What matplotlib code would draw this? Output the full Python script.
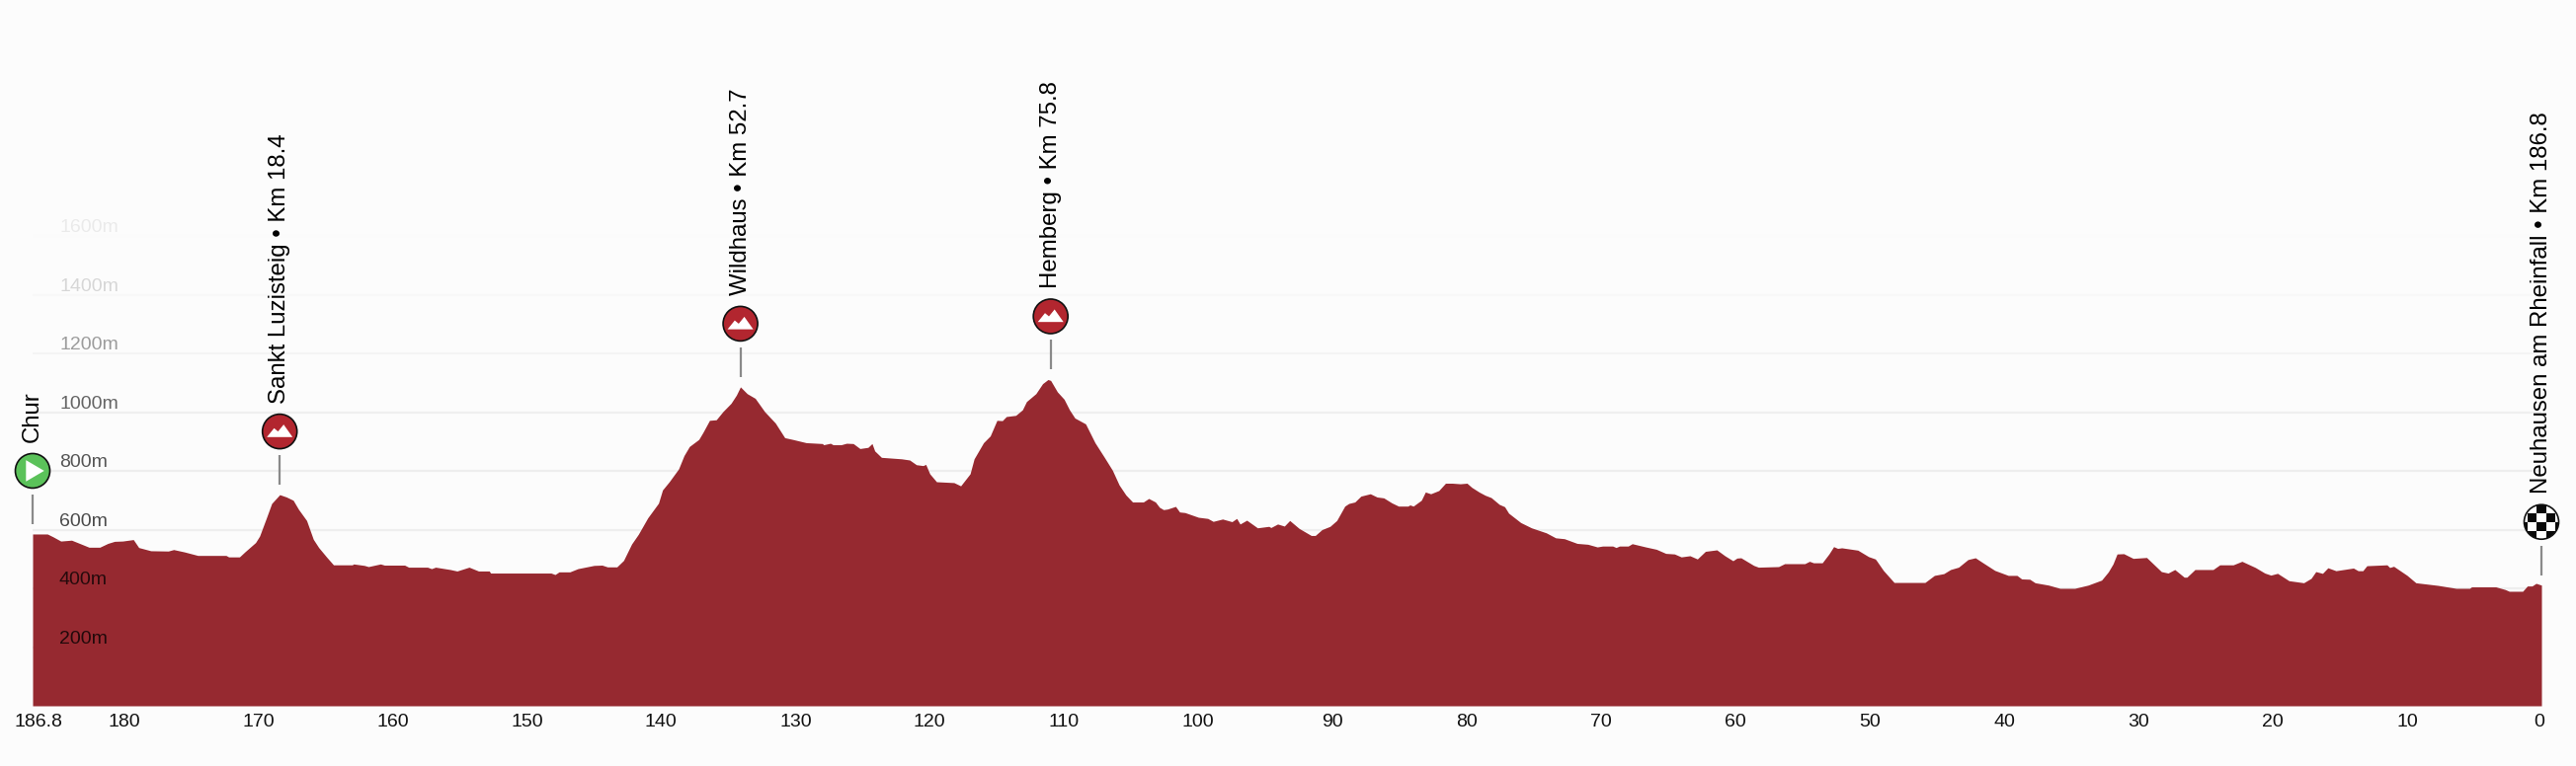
import numpy as np
from matplotlib import pyplot as plt
from matplotlib.patches import Circle, Polygon, Rectangle
from matplotlib.transforms import IdentityTransform, ScaledTranslation

# --- profile: km to the finish, altitude in m ---
km_start = [186.8, 185.7, 185.3, 184.7, 183.9, 183.3, 182.6, 181.8, 181.2, 180.7, 180.1, 179.3, 178.9, 178.0,
            176.7, 176.3, 175.5, 174.5, 172.4, 172.2, 171.4, 171.0, 170.2, 169.9, 169.4, 169.0, 168.4, 167.9,
            167.4, 167.0, 166.4, 165.9, 165.5, 164.9, 164.4, 163.0, 162.9, 162.1, 161.8, 160.9, 160.6, 159.1,
            158.8, 157.4, 157.1, 156.8, 155.7, 155.2, 154.3, 153.6, 152.8, 152.7, 148.2, 147.9, 147.6, 146.8,
            146.2, 145.0]
alt_start = [585, 585, 576, 561, 564, 553, 540, 540, 553, 560, 561, 566, 539, 528,
             527, 532, 524, 512, 512, 507, 507, 524, 556, 578, 639, 689, 719, 711,
             700, 669, 631, 567, 539, 506, 480, 480, 483, 478, 474, 483, 479, 479,
             472, 472, 467, 472, 464, 459, 472, 459, 459, 452, 452, 447, 456, 456,
             467, 478]

km_climbs = [144.4, 144.0, 143.3, 142.8, 142.2, 141.7, 141.0, 140.2, 139.9, 139.4, 138.7, 138.3, 137.9, 137.2,
             136.9, 136.4, 135.9, 135.4, 134.8, 134.4, 134.1, 133.6, 133.0, 132.3, 131.5, 130.8, 130.2, 129.2,
             128.0, 127.9, 127.4, 127.2, 126.6, 126.2, 125.7, 125.2, 124.6, 124.3, 124.1, 123.6, 122.1, 121.5,
             121.0, 120.5, 120.3, 120.0, 119.5, 118.2, 117.7, 117.0, 116.7, 116.0, 115.5, 115.0, 114.6, 114.3,
             113.6, 113.1, 112.8, 112.1, 111.6, 111.2, 111.0, 110.5, 110.0, 109.6, 109.2, 108.4, 107.7, 107.0,
             106.4, 105.9, 105.4, 104.9, 104.1, 103.7, 103.2, 102.9, 102.6, 102.3, 101.7, 101.4]
alt_climbs = [479, 473, 473, 495, 551, 584, 640, 690, 735, 763, 807, 852, 883, 907,
              930, 972, 974, 1002, 1030, 1058, 1086, 1063, 1047, 1002, 963, 913, 907, 896,
              893, 889, 894, 889, 889, 894, 893, 876, 880, 893, 868, 846, 841, 837,
              821, 818, 822, 790, 763, 760, 749, 790, 841, 896, 919, 972, 971, 985,
              989, 1008, 1036, 1063, 1097, 1111, 1108, 1069, 1044, 1008, 980, 960, 896, 846,
              802, 752, 718, 694, 694, 706, 694, 676, 668, 670, 679, 660]

km_middle = [101.0, 100.0, 99.3, 98.9, 98.2, 97.5, 97.15, 96.9, 96.4, 95.6, 94.75, 94.6, 94.1, 93.6, 93.2, 92.5,
             91.6, 91.3, 90.8, 90.2, 89.7, 89.1, 88.8, 88.35, 87.9, 87.2, 86.7, 86.2, 85.6, 85.1, 84.4, 84.25,
             84.0, 83.4, 83.1, 82.7, 82.1, 81.6, 81.1, 80.5, 80.0, 79.65, 79.1, 78.65, 78.2, 77.6, 77.2, 76.9,
             76.0, 75.2, 74.1, 73.4, 72.75, 71.8, 71.0, 70.3, 69.9, 69.15, 68.9, 68.65, 68.0, 67.7, 66.7, 65.9,
             65.2, 64.55, 64.05, 63.4, 62.85, 62.25, 61.4, 60.8, 60.2, 59.9, 59.6, 58.65, 58.3, 56.8, 56.35,
             54.85, 54.5, 54.2, 53.55, 53.05, 52.7, 52.4, 52.1, 50.9, 50.1, 49.6]
alt_middle = [658, 642, 638, 628, 636, 627, 638, 619, 632, 606, 611, 607, 619, 612, 631, 604,
              580, 580, 600, 611, 631, 680, 689, 694, 714, 722, 711, 708, 691, 680, 680, 684,
              680, 700, 728, 722, 733, 758, 758, 756, 758, 744, 728, 717, 709, 686, 678, 656,
              624, 606, 589, 572, 569, 553, 550, 541, 544, 544, 539, 544, 544, 552, 541, 533,
              519, 517, 507, 511, 500, 526, 531, 511, 494, 503, 504, 478, 472, 474, 484,
              484, 492, 487, 487, 517, 542, 536, 538, 530, 508, 500]

km_finish = [49.5, 49.0, 48.2, 47.2, 45.9, 45.2, 44.5, 44.0, 43.4, 42.7, 42.15, 41.55, 40.7, 39.7, 39.05, 38.7,
             38.1, 37.7, 36.7, 35.85, 34.75, 33.75, 32.75, 32.25, 31.9, 31.6, 31.1, 30.4, 29.4, 28.3, 27.8, 27.3,
             26.6, 26.4, 25.8, 24.45, 23.95, 22.95, 22.3, 21.3, 20.6, 20.15, 19.65, 18.8, 17.7, 17.15, 16.8, 16.3,
             15.9, 15.3, 14.0, 13.65, 13.3, 13.0, 11.5, 11.3, 11.0, 10.0, 9.35, 7.7, 6.35, 5.35, 5.2, 3.4,
             2.7, 2.4, 1.4, 1.05, 0.7, 0.4, 0.0]
alt_finish = [494, 461, 420, 420, 420, 444, 450, 464, 472, 498, 504, 486, 461, 444, 444, 432,
              431, 419, 411, 400, 400, 411, 428, 456, 483, 517, 518, 502, 505, 457, 452, 464,
              438, 438, 464, 464, 480, 480, 492, 471, 452, 445, 451, 426, 419, 434, 457, 451,
              470, 460, 469, 460, 460, 477, 480, 471, 475, 444, 419, 410, 400, 400, 405, 405,
              396, 390, 390, 408, 408, 417, 411]

x_ticks = [186.8, 180, 170, 160, 150, 140, 130, 120, 110, 100, 90, 80, 70, 60, 50, 40, 30, 20, 10, 0]
y_ticks = [200, 400, 600, 800, 1000, 1200, 1400, 1600]
y_alpha = [0.78, 0.75, 0.7, 0.66, 0.6, 0.38, 0.15, 0.07]
grid_colors = ['#eeeeee', '#eeeeee', '#eeeeee', '#eeeeee', '#efefef', '#f4f4f4', '#f8f8f8', '#fbfbfb']

# traguardi: nome, km al traguardo, quota, tipo
stop_names = ['Chur', 'Sankt Luzisteig • Km 18.4', 'Wildhaus • Km 52.7', 'Hemberg • Km 75.8',
              'Neuhausen am Rheinfall • Km 186.8']
stop_km = [186.8, 168.4, 134.1, 111.0, 0]
stop_alt = [585, 719, 1086, 1111, 411]
stop_kind = ['start', 'climb', 'climb', 'climb', 'finish']

km = np.array(km_start + km_climbs + km_middle + km_finish)
alt = np.array(alt_start + alt_climbs + alt_middle + alt_finish)

plt.rcParams['font.family'] = 'Liberation Sans'
BG = '#fcfcfc'
W, H = 2608, 776

fig = plt.figure(figsize=(W / 100, H / 100), dpi=100, facecolor=BG)
ax = fig.add_axes([33 / W, 61 / H, 2540 / W, 535.5 / H])
ax.set_facecolor('none')
ax.set_xlim(186.8, 0)
ax.set_ylim(0, 1800)
for s in ax.spines.values():
    s.set_visible(False)

# griglia sotto il profilo
ax.hlines(y_ticks, 186.8, 0, colors=grid_colors, linewidth=1.6, zorder=1)
ax.fill_between(km, alt, 0, color='#962930', linewidth=0, zorder=2)

# etichette quota sopra il profilo
ax.set_yticks([])
for val, a in zip(y_ticks, y_alpha):
    ax.annotate(f'{val}m', xy=(0, val), xycoords=('axes fraction', 'data'), xytext=(27, 3.7),
                textcoords='offset pixels', fontsize=14, color='black', alpha=a, zorder=3)

ax.set_xticks(x_ticks)
ax.set_xticklabels([f'{t:g}' for t in x_ticks])
ax.tick_params(axis='x', length=0, pad=5.7, labelsize=14, labelcolor='#111111')
# i due estremi sono spostati verso l'interno
labels = ax.get_xticklabels()
labels[0].set_transform(labels[0].get_transform() + ScaledTranslation(5.5 / 100, 0, fig.dpi_scale_trans))
labels[-1].set_transform(labels[-1].get_transform() + ScaledTranslation(-2 / 100, 0, fig.dpi_scale_trans))

pix = IdentityTransform()
R = 17.5

for name, k, a, kind in zip(stop_names, stop_km, stop_alt, stop_kind):
    px, py = ax.transData.transform((k, a))
    # asta grigia
    ax.plot([px, px], [py + 10, py + 40], transform=pix, color='#8a8a8a', lw=1.6, zorder=4,
            solid_capstyle='butt', clip_on=False)
    cy = py + 64
    face = {'start': '#5bc25a', 'climb': '#b2262f', 'finish': 'white'}[kind]
    circ = Circle((px, cy), R, transform=pix, facecolor=face, edgecolor='none', zorder=5, clip_on=False)
    ax.add_patch(circ)
    if kind == 'climb':
        ax.add_patch(Polygon([(px - 13, cy - 5.7), (px - 5.7, cy + 3.3), (px - 1.7, cy), (px + 4, cy + 7),
                              (px + 13, cy - 5.7)], transform=pix, facecolor='white', edgecolor='none',
                             zorder=6, clip_on=False))
    elif kind == 'start':
        ax.add_patch(Polygon([(px - 6.7, cy - 10.8), (px - 6.7, cy + 10.8), (px + 11.7, cy)], transform=pix,
                             facecolor='white', edgecolor='none', zorder=6, clip_on=False))
    else:
        size = 9.2
        for row in range(-2, 2):
            for col in range(-2, 3):
                if (row + col) % 2 == 1:
                    sq = Rectangle((px - size / 2 + col * size, cy + row * size), size, size, transform=pix,
                                   facecolor='#0a0a0a', edgecolor='none', zorder=6)
                    ax.add_patch(sq)
                    # altrimenti il riquadro degli assi taglia meta' bandiera
                    sq.set_clip_box(fig.bbox)
                    sq.set_clip_path(circ)
    ax.add_patch(Circle((px, cy), R, transform=pix, facecolor='none', edgecolor='#111111', lw=1.2, zorder=7,
                        clip_on=False))
    ax.text(px, cy + R + 11, name, transform=pix, rotation=90, ha='center', va='bottom', fontsize=17.3,
            color='black', zorder=8, clip_on=False)

fig.savefig('out.png', dpi=100, facecolor=BG)
